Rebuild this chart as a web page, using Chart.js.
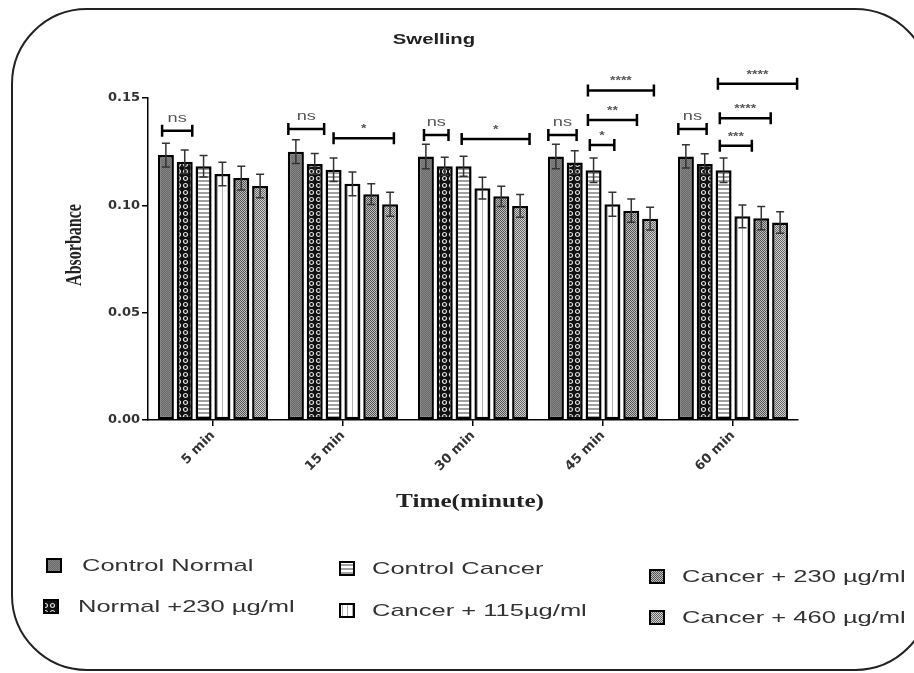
<!DOCTYPE html>
<html>
<head>
<meta charset="utf-8">
<script src="https://cdn.jsdelivr.net/npm/chart.js@4.4.1/dist/chart.umd.min.js"></script>
<style>
  html, body { margin: 0; padding: 0; background: #fff; }
  #wrap { width: 914px; height: 673px; position: relative; }
</style>
</head>
<body>
<div id="wrap"><canvas id="grafico" width="914" height="673"></canvas></div>
<script>
// dados
const categorias = ["5 min", "15 min", "30 min", "45 min", "60 min"];
const nomesSeries = [
  "Control Normal",
  "Normal +230 \u00b5g/ml",
  "Control Cancer",
  "Cancer + 115\u00b5g/ml",
  "Cancer + 230 \u00b5g/ml",
  "Cancer + 460 \u00b5g/ml",
];
const controlNormal = [0.1234, 0.1250, 0.1228, 0.1228, 0.1228];
const normal230 = [0.1203, 0.1193, 0.1182, 0.1200, 0.1193];
const controlCancer = [0.1182, 0.1166, 0.1182, 0.1163, 0.1163];
const cancer115 = [0.1146, 0.1100, 0.1080, 0.1005, 0.0949];
const cancer230 = [0.1127, 0.1052, 0.1042, 0.0975, 0.0940];
const cancer460 = [0.1090, 0.1005, 0.0997, 0.0938, 0.0920];

const erroControlNormal = [0.0055, 0.0055, 0.0057, 0.0057, 0.0054];
const erroNormal230 = [0.0055, 0.0048, 0.0042, 0.0054, 0.0047];
const erroControlCancer = [0.0050, 0.0055, 0.0047, 0.0057, 0.0057];
const erroCancer115 = [0.0055, 0.0055, 0.0051, 0.0056, 0.0053];
const erroCancer230 = [0.0055, 0.0048, 0.0047, 0.0054, 0.0054];
const erroCancer460 = [0.0055, 0.0056, 0.0053, 0.0053, 0.0050];

const ticksY = [0, 0.05, 0.10, 0.15];

// [grupo, barra inicial, barra final, nível, rótulo]
const significancia = [
  [0, -0.2, 1.4, 0.1348, "ns"],
  [1, -0.4, 1.5, 0.1356, "ns"],
  [1, 2.0, 5.2, 0.1312, "*"],
  [2, -0.1, 1.2, 0.1328, "ns"],
  [2, 1.9, 5.5, 0.1309, "*"],
  [3, -0.4, 1.1, 0.1328, "ns"],
  [3, 1.8, 3.1, 0.1281, "*"],
  [3, 1.7, 4.3, 0.1398, "**"],
  [3, 1.7, 5.2, 0.1535, "****"],
  [4, -0.4, 1.1, 0.1356, "ns"],
  [4, 1.8, 3.5, 0.1278, "***"],
  [4, 1.8, 4.5, 0.1406, "****"],
  [4, 1.7, 5.9, 0.1566, "****"],
];

const valores = [controlNormal, normal230, controlCancer, cancer115, cancer230, cancer460];
const erros = [erroControlNormal, erroNormal230, erroControlCancer, erroCancer115, erroCancer230, erroCancer460];

function criarPadrao(tipo) {
  const c = document.createElement("canvas");
  const g = c.getContext("2d");
  if (tipo === 0) {
    c.width = 2; c.height = 2;
    g.fillStyle = "#6a6a6a"; g.fillRect(0, 0, 2, 2);
    g.fillStyle = "#858585"; g.fillRect(0, 0, 1, 1); g.fillRect(1, 1, 1, 1);
  } else if (tipo === 1) {
    c.width = 7; c.height = 7;
    g.fillStyle = "#111"; g.fillRect(0, 0, 7, 7);
    g.strokeStyle = "#e0e0e0";
    g.lineWidth = 1.2;
    g.beginPath(); g.arc(3.5, 3.5, 2, 0, Math.PI * 2); g.stroke();
  } else if (tipo === 2) {
    c.width = 1; c.height = 4;
    g.fillStyle = "#fff"; g.fillRect(0, 0, 1, 4);
    g.fillStyle = "#a0a0a0"; g.fillRect(0, 0, 1, 2);
  } else if (tipo === 3) {
    c.width = 5; c.height = 1;
    g.fillStyle = "#fff"; g.fillRect(0, 0, 5, 1);
    g.fillStyle = "#b0b0b0"; g.fillRect(2, 0, 1, 1);
  } else if (tipo === 4) {
    c.width = 2; c.height = 2;
    g.fillStyle = "#bdbdbd"; g.fillRect(0, 0, 2, 2);
    g.fillStyle = "#555"; g.fillRect(0, 0, 1, 1); g.fillRect(1, 1, 1, 1);
  } else {
    c.width = 2; c.height = 2;
    g.fillStyle = "#cfcfcf"; g.fillRect(0, 0, 2, 2);
    g.fillStyle = "#666"; g.fillRect(0, 0, 1, 1); g.fillRect(1, 1, 1, 1);
  }
  return g.createPattern(c, "repeat");
}

const padroes = valores.map((_, i) => criarPadrao(i));

function textoEsticado(ctx, texto, x, y, escala, align) {
  ctx.save();
  ctx.translate(x, y);
  ctx.scale(escala, 1);
  ctx.textAlign = align || "left";
  ctx.fillText(texto, 0, 0);
  ctx.restore();
}

const pluginExtras = {
  id: "extras",
  beforeDraw(chart) {
    const ctx = chart.ctx;
    ctx.save();
    ctx.fillStyle = "#fff";
    ctx.fillRect(0, 0, chart.width, chart.height);
    // moldura arredondada
    ctx.strokeStyle = "#222";
    ctx.lineWidth = 2;
    ctx.beginPath();
    ctx.roundRect(12, 9, 918, 661, 75);
    ctx.stroke();
    ctx.restore();
  },
  afterDatasetsDraw(chart) {
    const ctx = chart.ctx;
    const y = chart.scales.y;
    ctx.save();
    // barras de erro
    ctx.strokeStyle = "#333";
    ctx.lineWidth = 1.5;
    valores.forEach((serie, d) => {
      const meta = chart.getDatasetMeta(d);
      meta.data.forEach((bar, g) => {
        const topo = y.getPixelForValue(serie[g] + erros[d][g]);
        const base = y.getPixelForValue(serie[g] - erros[d][g]);
        ctx.beginPath();
        ctx.moveTo(bar.x, base); ctx.lineTo(bar.x, topo);
        ctx.moveTo(bar.x - 4, topo); ctx.lineTo(bar.x + 4, topo);
        ctx.moveTo(bar.x - 4, base); ctx.lineTo(bar.x + 4, base);
        ctx.stroke();
      });
    });
    // colchetes de significância
    significancia.forEach(([g, de, ate, nivel, rotulo]) => {
      const x0 = chart.getDatasetMeta(0).data[g].x;
      const passo = chart.getDatasetMeta(1).data[g].x - x0;
      const xa = x0 + de * passo;
      const xb = x0 + ate * passo;
      const yy = y.getPixelForValue(nivel);
      ctx.strokeStyle = "#000";
      ctx.lineWidth = 2.5;
      ctx.beginPath();
      ctx.moveTo(xa, yy); ctx.lineTo(xb, yy);
      ctx.moveTo(xa, yy - 6); ctx.lineTo(xa, yy + 6);
      ctx.moveTo(xb, yy - 6); ctx.lineTo(xb, yy + 6);
      ctx.stroke();
      ctx.fillStyle = "#555";
      ctx.textBaseline = "alphabetic";
      if (rotulo === "ns") {
        ctx.font = "13px 'Liberation Sans'";
        textoEsticado(ctx, rotulo, (xa + xb) / 2, yy - 9, 1.4, "center");
      } else {
        ctx.font = "bold 10px 'Liberation Sans'";
        textoEsticado(ctx, rotulo, (xa + xb) / 2, yy - 6, 1.4, "center");
      }
    });
    ctx.restore();
  },
  afterDraw(chart) {
    const ctx = chart.ctx;
    ctx.save();
    ctx.fillStyle = "#222";
    ctx.textBaseline = "alphabetic";
    // título
    ctx.font = "bold 14px 'Liberation Sans'";
    textoEsticado(ctx, "Swelling", 434, 44, 1.45, "center");
    // título do eixo x
    ctx.font = "bold 18px 'Liberation Serif'";
    textoEsticado(ctx, "Time(minute)", 470, 507, 1.4, "center");
    // título do eixo y
    ctx.save();
    ctx.translate(81, 245);
    ctx.rotate(-Math.PI / 2);
    ctx.scale(1, 1.4);
    ctx.font = "bold 16px 'Liberation Serif'";
    ctx.textAlign = "center";
    ctx.fillText("Absorbance", 0, 0);
    ctx.restore();
    // legenda
    const posicoes = [
      [47, 559, 82, 571], [44, 600, 78, 612],
      [340, 562, 372, 574], [340, 604, 372, 616],
      [650, 570, 682, 582], [650, 611, 682, 623],
    ];
    nomesSeries.forEach((nome, i) => {
      const [sx, sy, tx, ty] = posicoes[i];
      ctx.fillStyle = padroes[i];
      ctx.fillRect(sx, sy, 14, 13);
      ctx.strokeStyle = "#000";
      ctx.lineWidth = 2;
      ctx.strokeRect(sx, sy, 14, 13);
      ctx.fillStyle = "#333";
      ctx.font = "17px 'Liberation Sans'";
      textoEsticado(ctx, nome, tx, ty, 1.5, "left");
    });
    ctx.restore();
  },
};

new Chart(document.getElementById("grafico"), {
  type: "bar",
  data: {
    labels: categorias,
    datasets: valores.map((serie, i) => ({
      label: nomesSeries[i],
      data: serie,
      backgroundColor: padroes[i],
      borderColor: "#000",
      borderWidth: 2.5,
      borderSkipped: false,
      categoryPercentage: 0.87,
      barPercentage: 0.85,
    })),
  },
  options: {
    responsive: false,
    animation: false,
    devicePixelRatio: 1,
    layout: { padding: { left: 0, top: 98, right: 116, bottom: 0 } },
    plugins: { legend: { display: false }, tooltip: { enabled: false } },
    scales: {
      x: {
        grid: { display: true, offset: false, drawOnChartArea: false, drawTicks: true, tickLength: 6, color: "#000", lineWidth: 1.5 },
        border: { display: true, color: "#000", width: 1.5 },
        ticks: {
          color: "#333",
          font: { family: "'DejaVu Sans'", size: 13, weight: "bold" },
          minRotation: 45,
          maxRotation: 45,
          padding: 2,
        },
        afterFit: (s) => { s.height = 253; },
      },
      y: {
        min: 0,
        max: 0.15,
        grid: { display: true, drawOnChartArea: false, drawTicks: true, tickLength: 6, color: "#000", lineWidth: 1.5 },
        border: { display: true, color: "#000", width: 1.5 },
        afterBuildTicks: (s) => { s.ticks = ticksY.map((v) => ({ value: v })); },
        ticks: {
          color: "#333",
          font: { family: "'DejaVu Sans'", size: 13, weight: "bold" },
          padding: 2,
          callback: (v) => Number(v).toFixed(2),
        },
        afterFit: (s) => { s.width = 148; },
      },
    },
  },
  plugins: [pluginExtras],
});
</script>
</body>
</html>
